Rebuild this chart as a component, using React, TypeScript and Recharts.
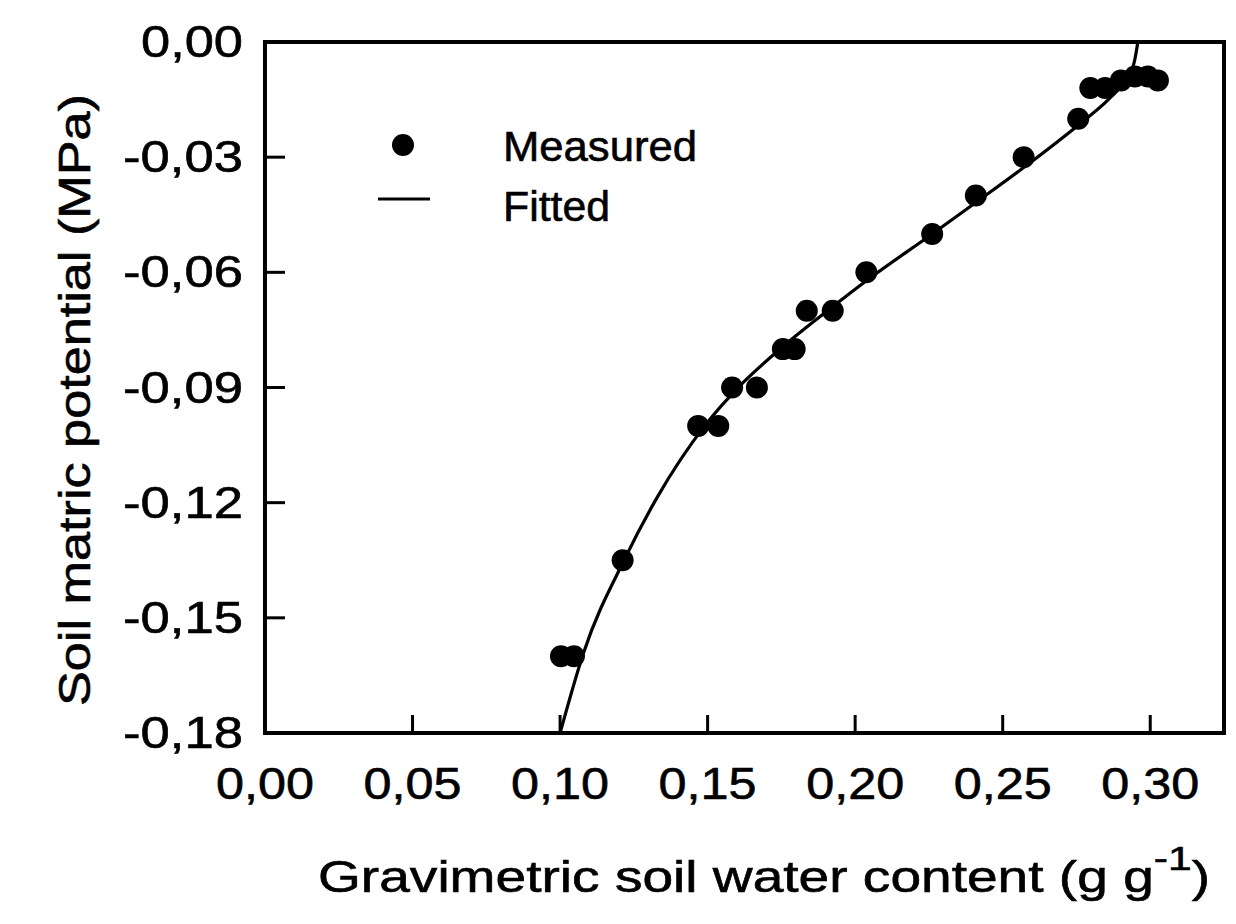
import React from 'react';
import { ComposedChart, Scatter, Line, XAxis, YAxis, ReferenceArea, Legend, Customized } from 'recharts';

// Measured points
const measuredX = [0.1003, 0.1047, 0.1212, 0.1468, 0.1536, 0.1583, 0.1667, 0.1755, 0.1795, 0.1836, 0.1924, 0.2038, 0.2261, 0.2409, 0.2571, 0.2756, 0.2797, 0.2847, 0.2901, 0.2948, 0.2992, 0.3026];
const measuredY = [-0.16, -0.16, -0.135, -0.1, -0.1, -0.09, -0.09, -0.08, -0.08, -0.07, -0.07, -0.06, -0.05, -0.04, -0.03, -0.02, -0.012, -0.012, -0.01, -0.009, -0.009, -0.01];

// Fitted curve
const fittedX = [0.1, 0.108, 0.122, 0.133, 0.149, 0.161, 0.1745, 0.1923, 0.2038, 0.2261, 0.2409, 0.2578, 0.276, 0.2858, 0.2901, 0.2945, 0.2958];
const fittedY = [-0.18, -0.159, -0.1345, -0.1185, -0.1, -0.0895, -0.08, -0.069, -0.0622, -0.05, -0.0418, -0.0323, -0.0214, -0.015, -0.0115, -0.0055, 0];

const xTicks = [0, 0.05, 0.1, 0.15, 0.2, 0.25, 0.3];
const xTickLabels = ['0,00', '0,05', '0,10', '0,15', '0,20', '0,25', '0,30'];
const yTicks = [0, -0.03, -0.06, -0.09, -0.12, -0.15, -0.18];
const yTickLabels = ['0,00', '-0,03', '-0,06', '-0,09', '-0,12', '-0,15', '-0,18'];

const xDomain = [0, 0.325];
const yDomain = [-0.18, 0];

const measured = measuredX.map((x, i) => ({ x, y: measuredY[i] }));
const fitted = fittedX.map((x, i) => ({ x, y: fittedY[i] }));

const FONT = '"Liberation Sans", Arial, Helvetica, sans-serif';
const TXT = { fontFamily: FONT, fill: '#000', stroke: '#000', strokeWidth: 0.6 };

const XTick = (props: any) => {
  const { x, y, payload } = props;
  const idx = xTicks.indexOf(payload.value);
  return (
    <g>
      <line x1={x} y1={y} x2={x} y2={y - 18} stroke="#000" strokeWidth={3} />
      <text x={x} y={y + 66} textAnchor="middle" fontSize={44} {...TXT}
        textLength={98} lengthAdjust="spacingAndGlyphs">{xTickLabels[idx]}</text>
    </g>
  );
};

const YTick = (props: any) => {
  const { x, y, payload } = props;
  const idx = yTicks.indexOf(payload.value);
  const label = yTickLabels[idx];
  return (
    <g>
      <line x1={x} y1={y} x2={x + 20} y2={y} stroke="#000" strokeWidth={3} />
      <text x={x - 22} y={y + 15} textAnchor="end" fontSize={44} {...TXT}
        textLength={label.startsWith('-') ? 120 : 102} lengthAdjust="spacingAndGlyphs">{label}</text>
    </g>
  );
};

const Dot = (props: any) => {
  const { cx, cy } = props;
  if (cx == null || cy == null) return null;
  return <circle cx={cx} cy={cy} r={11} fill="#000" />;
};

const LegendContent = () => (
  <svg width={340} height={120}>
    <circle cx={35} cy={22} r={11} fill="#000" />
    <line x1={10} y1={76} x2={62} y2={76} stroke="#000" strokeWidth={3} />
    <text x={135} y={38} fontSize={42} {...TXT} textLength={194} lengthAdjust="spacingAndGlyphs">Measured</text>
    <text x={135} y={98} fontSize={42} {...TXT} textLength={107} lengthAdjust="spacingAndGlyphs">Fitted</text>
  </svg>
);

const Titles = () => (
  <g>
    <text x={310} y={884} fontSize={44} {...TXT} textLength={892} lengthAdjust="spacingAndGlyphs">
      Gravimetric soil water content (g g<tspan dy={-22} fontSize={34}>-1</tspan><tspan dy={22} fontSize={44}>)</tspan>
    </text>
    <text x={82} y={392} transform="rotate(-90, 82, 392)" textAnchor="middle" fontSize={44} {...TXT}
      textLength={612} lengthAdjust="spacingAndGlyphs">Soil matric potential (MPa)</text>
  </g>
);

export default function App() {
  return (
    <ComposedChart width={1220} height={908} margin={{ top: 34, right: 4, left: 197, bottom: 123 }}>
      <XAxis dataKey="x" type="number" domain={xDomain} ticks={xTicks} interval={0} allowDataOverflow
        axisLine={false} tickLine={false} tickSize={0} tickMargin={0} height={60} tick={<XTick />} />
      <YAxis dataKey="y" type="number" domain={yDomain} ticks={yTicks} interval={0} allowDataOverflow
        axisLine={false} tickLine={false} tickSize={0} tickMargin={0} width={60} tick={<YTick />} />
      <ReferenceArea x1={0} x2={0.325} y1={-0.18} y2={0} fill="none" fillOpacity={0} stroke="#000" strokeWidth={4} ifOverflow="visible" />
      <Line data={fitted} dataKey="y" type="monotone" stroke="#000" strokeWidth={3.2} dot={false} activeDot={false} isAnimationActive={false} />
      <Scatter data={measured} dataKey="y" fill="#000" shape={<Dot />} isAnimationActive={false} />
      <Legend verticalAlign="middle" align="center" layout="horizontal" content={<LegendContent />}
        wrapperStyle={{ position: 'absolute', left: 360, top: 115, width: 340, height: 120 }} />
      <Customized component={Titles} />
    </ComposedChart>
  );
}
